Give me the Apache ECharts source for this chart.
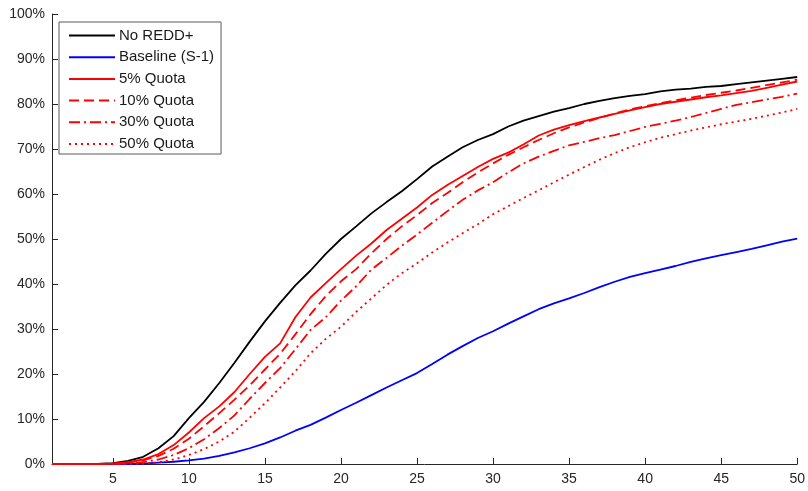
<!DOCTYPE html>
<html>
<head>
<meta charset="utf-8">
<script src="https://cdn.jsdelivr.net/npm/echarts@6/dist/echarts.min.js"></script>
<style>
html,body{margin:0;padding:0;background:#fff;}
#chart{width:808px;height:491px;}
</style>
</head>
<body>
<div id="chart"></div>
<script>
var xValues = [1,2,3,4,5,6,7,8,9,10,11,12,13,14,15,16,17,18,19,20,21,22,23,24,25,26,27,28,29,30,31,32,33,34,35,36,37,38,39,40,41,42,43,44,45,46,47,48,49,50];
var xTicks = [5,10,15,20,25,30,35,40,45,50];
var seriesNames = ['No REDD+','Baseline (S-1)','5% Quota','10% Quota','30% Quota','50% Quota'];

var noRedd = [0,0,0,0,0.2,0.7,1.6,3.5,6.2,10.2,13.8,18.0,22.5,27.2,31.7,35.8,39.7,43.0,46.7,50.0,52.8,55.7,58.2,60.6,63.3,66.1,68.3,70.4,72.0,73.3,75.0,76.3,77.3,78.3,79.1,80.0,80.7,81.3,81.8,82.2,82.8,83.2,83.4,83.8,84.0,84.4,84.8,85.2,85.6,86.0];
var baseline = [0,0,0,0,0,0,0.1,0.3,0.5,0.8,1.2,1.8,2.6,3.5,4.6,5.9,7.4,8.7,10.3,12.0,13.6,15.3,17.0,18.6,20.2,22.2,24.3,26.2,28.0,29.5,31.2,32.8,34.4,35.7,36.8,38.0,39.3,40.5,41.6,42.4,43.2,44.0,44.9,45.7,46.4,47.1,47.8,48.6,49.4,50.1];
var quota5 = [0,0,0,0,0.1,0.4,1.0,2.2,4.2,7.0,10.2,12.8,16.0,20.0,23.8,26.8,32.6,37.0,40.2,43.3,46.3,49.0,52.0,54.5,57.0,59.8,62.0,64.0,66.0,67.8,69.2,71.0,73.0,74.3,75.3,76.2,77.0,77.8,78.6,79.3,80.0,80.5,81.0,81.5,81.9,82.4,82.9,83.6,84.3,85.0];
var quota10 = [0,0,0,0,0.1,0.3,0.8,1.8,3.4,5.6,8.4,11.3,14.3,17.5,21.0,24.5,28.8,33.3,37.3,40.6,43.3,46.8,50.0,52.8,55.3,58.0,60.2,62.6,64.8,66.8,68.7,70.4,72.0,73.5,74.8,75.9,76.9,77.9,78.8,79.5,80.2,80.8,81.4,82.0,82.5,83.0,83.6,84.2,84.8,85.4];
var quota30 = [0,0,0,0,0,0.1,0.4,1.0,2.0,3.5,5.5,8.0,10.8,14.5,18.0,21.3,25.5,29.8,32.6,36.3,39.5,43.2,45.8,48.5,51.0,53.6,56.2,58.7,60.8,62.6,64.8,66.8,68.3,69.6,70.8,71.6,72.4,73.1,74.0,74.9,75.6,76.3,77.1,78.0,78.9,79.8,80.4,81.0,81.6,82.3];
var quota50 = [0,0,0,0,0,0,0.1,0.4,1.0,2.0,3.3,5.0,7.2,10.3,13.5,17.0,20.6,24.6,27.8,30.5,33.8,36.8,39.8,42.4,44.6,47.0,49.2,51.3,53.3,55.5,57.3,59.1,60.8,62.6,64.3,66.0,67.6,69.1,70.4,71.5,72.5,73.3,74.1,74.8,75.5,76.1,76.7,77.4,78.1,78.9];

var seriesValues = [noRedd, baseline, quota5, quota10, quota30, quota50];
var seriesColors = ['#000000','#0000ff','#ff0000','#ff0000','#ff0000','#ff0000'];
var seriesDash = ['solid','solid','solid',[10,5],[11,4,2,4],[2,4]];

function pairs(vals){
  var out = [];
  for (var i = 0; i < xValues.length; i++) out.push([xValues[i], vals[i]]);
  return out;
}

var FONT = "'Liberation Sans', Arial, Helvetica, sans-serif";
var series = seriesNames.map(function(name, i){
  return {
    name: name,
    type: 'line',
    data: pairs(seriesValues[i]),
    symbol: 'none',
    showSymbol: false,
    smooth: false,
    animation: false,
    color: seriesColors[i],
    lineStyle: {color: seriesColors[i], width: 1.8, type: seriesDash[i]}
  };
});

var chart = echarts.init(document.getElementById('chart'), null, {renderer: 'canvas'});
chart.setOption({
  animation: false,
  backgroundColor: '#ffffff',
  textStyle: {fontFamily: FONT},
  grid: {left: 52, right: 9, top: 14, bottom: 27, containLabel: false},
  legend: {
    orient: 'vertical',
    left: 59,
    top: 22,
    data: seriesNames,
    backgroundColor: '#ffffff',
    borderColor: '#5a5a5a',
    borderWidth: 1,
    borderRadius: 0,
    padding: [5.5, 7, 2, 9],
    itemWidth: 46,
    itemHeight: 16,
    itemGap: 5.7,
    selectedMode: false,
    itemStyle: {opacity: 0, borderWidth: 0},
    textStyle: {fontFamily: FONT, fontSize: 15, color: '#1a1a1a', lineHeight: 16, padding: [0,0,0,-1]}
  },
  xAxis: {
    type: 'value',
    min: 1,
    max: 50,
    splitLine: {show: false},
    axisLine: {show: true, lineStyle: {color: '#262626', width: 1}},
    axisTick: {show: true, inside: true, length: 6, customValues: xTicks, lineStyle: {color: '#262626'}},
    axisLabel: {customValues: xTicks, fontFamily: FONT, fontSize: 14, color: '#262626', margin: 8}
  },
  yAxis: {
    type: 'value',
    min: 0,
    max: 100,
    interval: 10,
    splitLine: {show: false},
    axisLine: {show: true, onZero: false, lineStyle: {color: '#262626', width: 1}},
    axisTick: {show: true, inside: true, length: 6, lineStyle: {color: '#262626'}},
    axisLabel: {formatter: '{value}%', fontFamily: FONT, fontSize: 14, color: '#262626', margin: 7}
  },
  series: series
});
</script>
</body>
</html>
